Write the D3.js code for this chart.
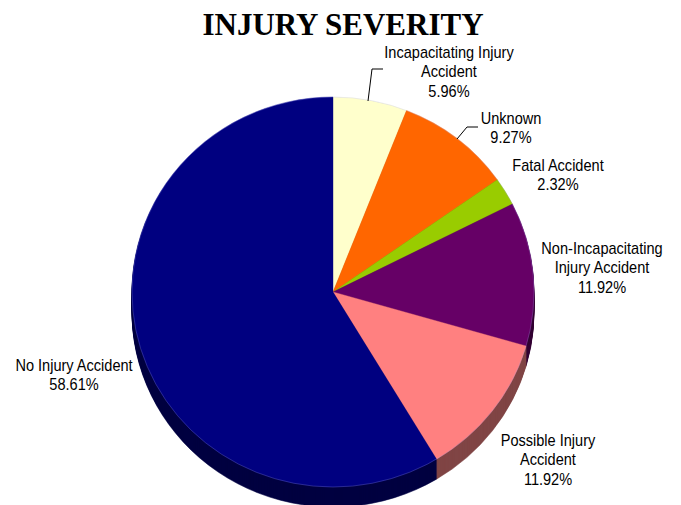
<!DOCTYPE html>
<html>
<head>
<meta charset="utf-8">
<script src="https://cdn.jsdelivr.net/npm/d3@7"></script>
<style>
html,body{margin:0;padding:0;background:#fff;}
svg{display:block;}
</style>
</head>
<body>
<svg id="chart" width="681" height="505"></svg>
<script>
const title = "INJURY SEVERITY";
const categories = ["Incapacitating Injury Accident","Unknown","Fatal Accident","Non-Incapacitating Injury Accident","Possible Injury Accident","No Injury Accident"];
const values = [5.96, 9.27, 2.32, 11.92, 11.92, 58.61];
const labelLines = [["Incapacitating Injury","Accident"],["Unknown"],["Fatal Accident"],["Non-Incapacitating","Injury Accident"],["Possible Injury","Accident"],["No Injury Accident"]];
const topColors = ["#FFFFCC","#FF6600","#99CC00","#660066","#FF8080","#000080"];
const sideColors = ["#80805f","#803300","#4d6600","#330033","#804545","#000040"];

// layout
const W = 681, H = 505;
const cx = 333, cy = 292, rx = 201, ry = 195, depth = 20;
const labelPos = [[449,52],[511,118],[558,165],[602,248],[548,440],[74,365]];
const leaders = [[[368,101],[372,69],[383,69]],[[457,139],[467,127],[478,127]],null,null,null,null];
const lineH = 19.5;
const sx = 0.91;

const svg = d3.select("#chart");
const data = categories.map((c,i)=>({name:c, value:values[i], i}));
const pie = d3.pie().value(d=>d.value).sort(null).startAngle(0).endAngle(2*Math.PI);
const arcs = pie(data);
const arc = d3.arc().innerRadius(0).outerRadius(rx);
const sy = ry/rx;

// 3D sides
for (let d = depth; d >= 1; d--) {
  const g = svg.append("g").attr("transform", `translate(${cx},${cy+d}) scale(1,${sy})`);
  g.selectAll("path").data(arcs).join("path")
    .attr("d", arc)
    .attr("fill", a => sideColors[a.data.i])
    .attr("stroke", a => sideColors[a.data.i])
    .attr("stroke-width", 0.6);
}
// top face
const topFace = svg.append("g").attr("transform", `translate(${cx},${cy}) scale(1,${sy})`);
topFace.selectAll("path").data(arcs).join("path")
  .attr("d", arc)
  .attr("fill", a => topColors[a.data.i])
  .attr("stroke", a => topColors[a.data.i])
  .attr("stroke-width", 0.4);
// faint rim highlight
topFace.append("ellipse").attr("cx",0).attr("cy",0).attr("rx",rx).attr("ry",rx)
  .attr("fill","none").attr("stroke","rgba(170,170,255,0.35)").attr("stroke-width",0.7);

// leader lines
leaders.forEach(pts => {
  if (!pts) return;
  svg.append("polyline").attr("points", pts.map(p=>p.join(",")).join(" "))
    .attr("fill","none").attr("stroke","#000").attr("stroke-width",1);
});

// labels
const font = "'Liberation Sans Narrow','Arial Narrow','Liberation Sans',sans-serif";
arcs.forEach(a => {
  const i = a.data.i;
  const lines = labelLines[i].concat([d3.format(".2f")(a.data.value) + "%"]);
  const [lx, ly] = labelPos[i];
  const t = svg.append("text")
    .attr("transform", `translate(${lx},${ly}) scale(${sx},1)`)
    .attr("text-anchor","middle")
    .attr("font-family", font)
    .attr("font-size", 16)
    .attr("fill","#000");
  lines.forEach((ln, k) => {
    t.append("tspan").attr("x", 0).attr("y", k*lineH).attr("dy","0.36em").text(ln);
  });
});

// title
svg.append("text").attr("x", 343).attr("y", 35)
  .attr("text-anchor","middle")
  .attr("font-family","'Liberation Serif','Times New Roman',serif")
  .attr("font-weight","bold").attr("font-size",31)
  .attr("fill","#000").text(title);
</script>
</body>
</html>
